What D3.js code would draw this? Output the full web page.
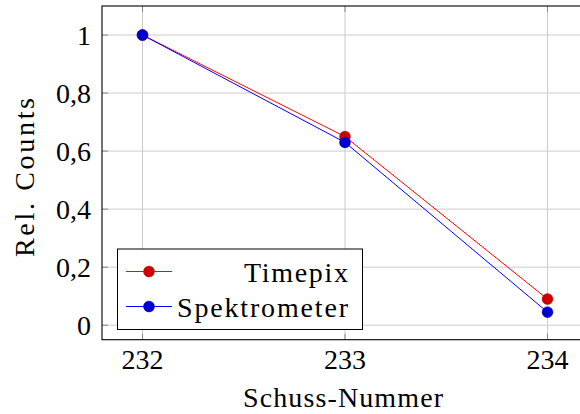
<!DOCTYPE html>
<html>
<head>
<meta charset="utf-8">
<script src="https://cdn.jsdelivr.net/npm/d3@7"></script>
<style>
  html, body { margin: 0; padding: 0; background: #fff; }
  svg { display: block; }
  text { font-family: "Liberation Serif", "DejaVu Serif", serif; fill: #000; }
</style>
</head>
<body>
<svg id="chart" width="580" height="414"></svg>
<script>
const shots = [232, 233, 234];
const timepix = [1, 0.65, 0.09];
const spektrometer = [1, 0.63, 0.045];
const yTicks = [0, 0.2, 0.4, 0.6, 0.8, 1];
const yTickLabels = ["0", "0,2", "0,4", "0,6", "0,8", "1"];
const seriesNames = ["Timepix", "Spektrometer"];

const svg = d3.select("#chart");
const pL = 102, pT = 6, pR = 588, pB = 339.7;

const x = d3.scaleLinear().domain([231.8, 234.2]).range([pL, pR]);
const y = d3.scaleLinear().domain([-0.05, 1.1]).range([pB, pT]);

const fontSize = 28;

// grid
const g = svg.append("g");
g.selectAll("line.gx").data(shots).enter().append("line")
  .attr("x1", d => x(d)).attr("x2", d => x(d))
  .attr("y1", pT).attr("y2", pB)
  .attr("stroke", "#cccccc").attr("stroke-width", 1);
g.selectAll("line.gy").data(yTicks).enter().append("line")
  .attr("x1", pL).attr("x2", pR)
  .attr("y1", d => y(d)).attr("y2", d => y(d))
  .attr("stroke", "#cccccc").attr("stroke-width", 1);

// tick marks (inside, on all sides)
const tl = 6;
shots.forEach(d => {
  g.append("line").attr("x1", x(d)).attr("x2", x(d)).attr("y1", pB).attr("y2", pB - tl).attr("stroke", "#888").attr("stroke-width", 1);
  g.append("line").attr("x1", x(d)).attr("x2", x(d)).attr("y1", pT).attr("y2", pT + tl).attr("stroke", "#888").attr("stroke-width", 1);
});
yTicks.forEach(d => {
  g.append("line").attr("x1", pL).attr("x2", pL + tl).attr("y1", y(d)).attr("y2", y(d)).attr("stroke", "#888").attr("stroke-width", 1);
  g.append("line").attr("x1", pR).attr("x2", pR - tl).attr("y1", y(d)).attr("y2", y(d)).attr("stroke", "#888").attr("stroke-width", 1);
});

// frame
svg.append("rect").attr("x", pL).attr("y", pT).attr("width", pR - pL).attr("height", pB - pT)
  .attr("fill", "none").attr("stroke", "#000").attr("stroke-width", 1.1);

// axes labels
svg.selectAll("text.xt").data(shots).enter().append("text")
  .attr("x", d => x(d)).attr("y", 369)
  .attr("text-anchor", "middle").attr("font-size", fontSize)
  .text(d => d);
svg.selectAll("text.yt").data(yTicks).enter().append("text")
  .attr("x", 91).attr("y", d => y(d) + 10)
  .attr("text-anchor", "end").attr("font-size", fontSize)
  .text((d, i) => yTickLabels[i]);

svg.append("text").attr("x", 343).attr("y", 407)
  .attr("text-anchor", "middle").attr("font-size", fontSize)
  .attr("textLength", 200).attr("lengthAdjust", "spacing")
  .text("Schuss-Nummer");
svg.append("text").attr("transform", "translate(34,177.5) rotate(-90)")
  .attr("text-anchor", "middle").attr("font-size", fontSize)
  .attr("textLength", 159).attr("lengthAdjust", "spacing")
  .text("Rel. Counts");

// series
const series = [
  { name: seriesNames[0], values: timepix, line: "#ff0000", mark: "#cc0000", len: 104 },
  { name: seriesNames[1], values: spektrometer, line: "#0000ff", mark: "#0000cc", len: 171 }
];
const line = d3.line().x((d, i) => x(shots[i])).y(d => y(d));
series.forEach(s => {
  svg.append("path").datum(s.values).attr("d", line)
    .attr("fill", "none").attr("stroke", s.line).attr("stroke-width", 1);
  svg.selectAll(null).data(s.values).enter().append("circle")
    .attr("cx", (d, i) => x(shots[i])).attr("cy", d => y(d)).attr("r", 5.5)
    .attr("fill", s.mark).attr("stroke", s.mark).attr("stroke-width", 0.4);
});

// legend
const lg = svg.append("g");
lg.append("rect").attr("x", 117.5).attr("y", 249).attr("width", 245).attr("height", 80.5)
  .attr("fill", "#fff").attr("stroke", "#000").attr("stroke-width", 1);
const rowY = [271.5, 306.5];
series.forEach((s, i) => {
  lg.append("line").attr("x1", 126).attr("x2", 172).attr("y1", rowY[i]).attr("y2", rowY[i])
    .attr("stroke", s.line).attr("stroke-width", 1);
  lg.append("circle").attr("cx", 149).attr("cy", rowY[i]).attr("r", 5.5)
    .attr("fill", s.mark).attr("stroke", s.mark).attr("stroke-width", 0.4);
  lg.append("text").attr("x", 348).attr("y", rowY[i] + 10)
    .attr("text-anchor", "end").attr("font-size", fontSize)
    .attr("textLength", s.len).attr("lengthAdjust", "spacing")
    .text(s.name);
});
</script>
</body>
</html>
